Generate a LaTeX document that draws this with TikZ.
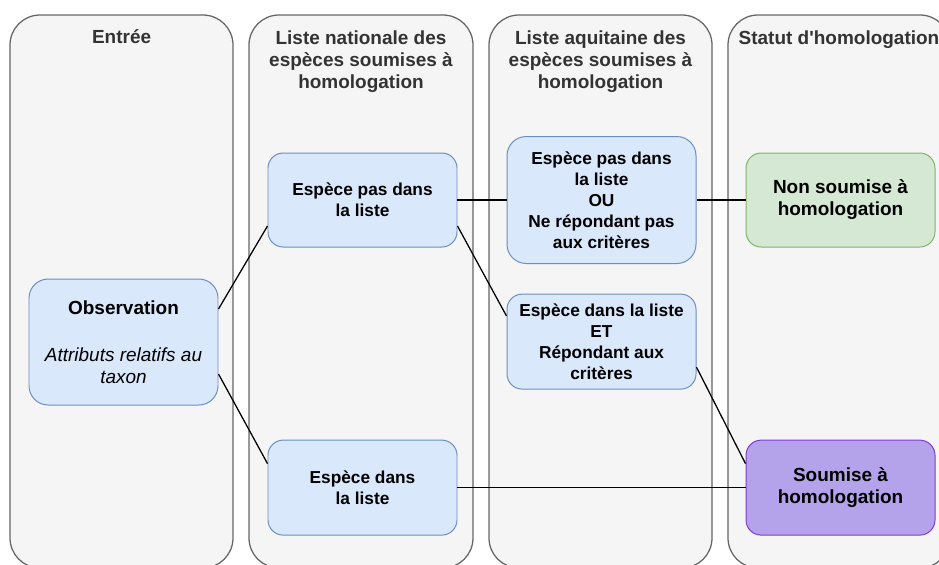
\documentclass[tikz,border=0pt]{standalone}
\usepackage{fontspec}
\setmainfont{Liberation Sans}
\usepackage{tikz}

\definecolor{laneFill}{HTML}{F5F5F5}
\definecolor{laneDraw}{HTML}{666666}
\definecolor{titleText}{HTML}{333333}
\definecolor{blueFill}{HTML}{DAE8FC}
\definecolor{blueDraw}{HTML}{6C8EBF}
\definecolor{greenFill}{HTML}{D5E8D4}
\definecolor{greenDraw}{HTML}{82B366}
\definecolor{purpleFill}{HTML}{B4A2EA}
\definecolor{purpleDraw}{HTML}{7E3CD6}

\begin{document}
\begin{tikzpicture}[
    lane/.style={draw=laneDraw, fill=laneFill, line width=0.9pt, rounded corners=0.75cm},
    title/.style={text=titleText, align=center, font=\fontsize{13.5}{15.6}\selectfont\bfseries},
    box/.style={draw, line width=0.7pt, rounded corners=0.38cm, align=center,
      minimum width=4.725cm, inner sep=2pt},
    cellblue/.style={box, draw=blueDraw, fill=blueFill, font=\fontsize{12.3}{14.9}\selectfont\bfseries},
    cellgreen/.style={box, draw=greenDraw, fill=greenFill, font=\fontsize{13.5}{15.6}\selectfont\bfseries},
    cellpurple/.style={box, draw=purpleDraw, fill=purpleFill, font=\fontsize{13.5}{15.6}\selectfont\bfseries},
    link/.style={line width=0.9pt}
  ]
    \clip (0,0) rectangle (23.475,-14.1);

    % lanes
    \draw[lane] (0.25,-0.375) rectangle (5.825,-14.2);
    \draw[lane] (6.225,-0.375) rectangle (11.825,-14.2);
    \draw[lane] (12.225,-0.375) rectangle (17.8,-14.2);
    \draw[lane] (18.2,-0.375) rectangle (23.75,-14.2);

    \node[title] (t1) at (3.04,-0.925) {Entrée};
    \node[title] (t2) at (9.025,-1.55)
      {Liste nationale des\\espèces soumises à\\homologation};
    \node[title] (t3) at (15.0125,-1.55)
      {Liste aquitaine des\\espèces soumises à\\homologation};
    \node[title] (t4) at (20.975,-1.0) {Statut d\textquotesingle homologation};

    % nodes
    \node[cellblue, minimum height=3.15cm, rounded corners=0.48cm,
      font=\fontsize{13.5}{15.6}\selectfont] (obs) at (3.0875,-8.55)
      {\textbf{Observation}\\[17.7pt]\textit{Attributs relatifs au}\\\textit{taxon}};

    \node[cellblue, minimum height=2.35cm] (nat1) at (9.0625,-5.0)
      {Espèce pas dans\\la liste};
    \node[cellblue, minimum height=2.375cm] (nat2) at (9.0625,-12.19)
      {Espèce dans\\la liste};

    \node[cellblue, minimum height=3.175cm, rounded corners=0.48cm] (aq1) at (15.0375,-5.0)
      {Espèce pas dans\\la liste\\OU\\Ne répondant pas\\aux critères};
    \node[cellblue, minimum height=2.375cm] (aq2) at (15.0375,-8.54)
      {Espèce dans la liste\\ET\\Répondant aux\\critères};

    \node[cellgreen, minimum height=2.35cm] (non) at (21.0125,-5.0)
      {Non soumise à\\homologation};
    \node[cellpurple, minimum height=2.375cm] (soum) at (21.0125,-12.19)
      {Soumise à\\homologation};

    % links
    \draw[link] ([yshift=0.825cm]obs.east) -- ([yshift=-0.65cm]nat1.west);
    \draw[link] ([yshift=-0.8cm]obs.east) -- ([yshift=0.6cm]nat2.west);
    \draw[link] (nat1.east) -- (aq1.west);
    \draw[link] ([yshift=-0.65cm]nat1.east) -- ([yshift=0.64cm]aq2.west);
    \draw[link] (aq1.east) -- (non.west);
    \draw[link] ([yshift=-0.64cm]aq2.east) -- ([yshift=0.6cm]soum.west);
    \draw[link] (nat2.east) -- (soum.west);
  \end{tikzpicture}
\end{document}
